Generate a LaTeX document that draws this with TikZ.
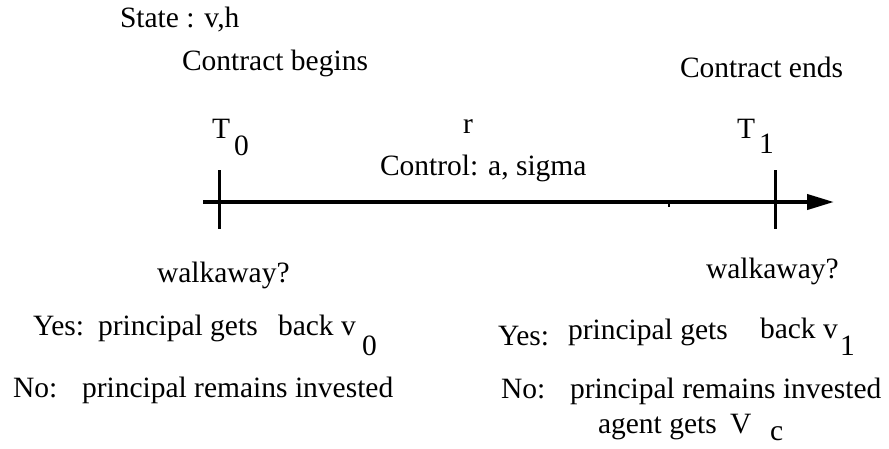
\documentclass[tikz,border=0pt]{standalone}
\usepackage{fontspec}
\setmainfont{Liberation Serif}
\usetikzlibrary{arrows.meta}
\begin{document}
\begin{tikzpicture}[x=1pt,y=-1pt,
  lbl/.style={anchor=base west,inner sep=0pt,outer sep=0pt,font=\fontsize{29.5}{35}\selectfont},
  axisline/.style={line width=4pt,-{Triangle[length=27pt,width=15pt]}},
  tickline/.style={line width=3pt},
  stubline/.style={line width=2.5pt}]
\useasboundingbox (0,0) rectangle (889,448);
% top texts
\node[lbl] (state) at (120,27) {State : v,h};
\node[lbl] (cbeg) at (182,70) {Contract begins};
\node[lbl] (cend) at (680,77) {Contract ends};
\node[lbl] (T0) at (212,138) {T};
\node[lbl] (T0s) at (234,155) {0};
\node[lbl] (T1) at (737,138) {T};
\node[lbl] (T1s) at (759,153) {1};
\node[lbl] (r) at (463,133) {r};
\node[lbl] (ctrl) at (380,175) {Control: a, sigma};
% axis
\coordinate (axL) at (203,202);
\coordinate (axR) at (834,202);
\draw[axisline] (axL) -- (axR);
\coordinate (t0a) at (219,170);
\coordinate (t0b) at (219,229);
\coordinate (t1a) at (775,170);
\coordinate (t1b) at (775,229);
\draw[tickline] (t0a) -- (t0b);
\draw[tickline] (t1a) -- (t1b);
\coordinate (sa) at (669,203);
\coordinate (sb) at (669,207);
\draw[stubline] (sa) -- (sb);
% left bottom
\node[lbl] (wl) at (157,282) {walkaway?};
\node[lbl] (yl1) at (33,335) {Yes:};
\node[lbl] (yl2) at (98,335) {principal gets};
\node[lbl] (yl3) at (278,335) {back v};
\node[lbl] (yl4) at (362,355) {0};
\node[lbl] (nl1) at (13,397) {No:};
\node[lbl] (nl2) at (82,397) {principal remains invested};
% right bottom
\node[lbl] (wr) at (706,278) {walkaway?};
\node[lbl] (yr1) at (498,345) {Yes:};
\node[lbl] (yr2) at (568,339) {principal gets};
\node[lbl] (yr3) at (760,338) {back v};
\node[lbl] (yr4) at (840,355) {1};
\node[lbl] (nr1) at (501,398) {No:};
\node[lbl] (nr2) at (570,398) {principal remains invested};
\node[lbl] (ag1) at (598,433) {agent gets};
\node[lbl] (ag2) at (730,433) {V};
\node[lbl] (ag3) at (770,440) {c};
\end{tikzpicture}
\end{document}
